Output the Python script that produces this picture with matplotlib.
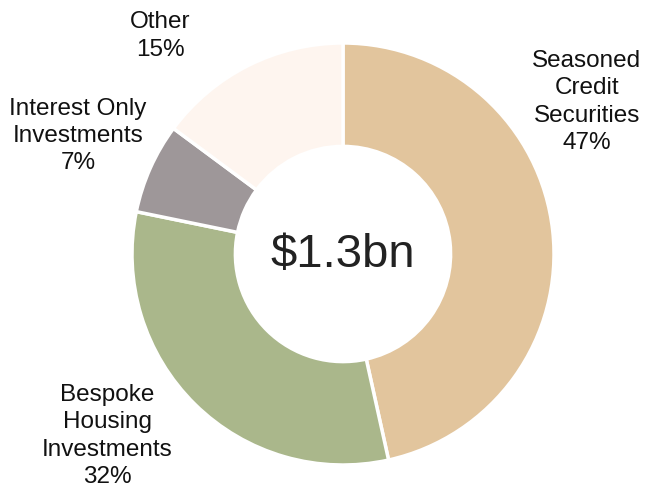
import matplotlib
matplotlib.use("Agg")
import matplotlib.pyplot as plt

labels = ["Seasoned\nCredit\nSecurities", "Bespoke\nHousing\nInvestments",
          "Interest Only\nInvestments", "Other"]
shares = [47, 32, 7, 15]
colors = ["#E2C59D", "#AAB78B", "#9E9799", "#FEF5EF"]
total_label = "$1.3bn"

# label anchor points (data units, pie radius = 1)
label_pos = [(1.156, 0.725), (-1.118, -0.858), (-1.256, 0.564), (-0.867, 1.038)]

plt.rcParams["font.family"] = ["Liberation Sans", "DejaVu Sans"]

fig = plt.figure(figsize=(6.45, 4.85), dpi=100)
ax = fig.add_axes([0, 0, 1, 1])
ax.pie(shares, colors=colors, startangle=90, counterclock=False, radius=1.0,
       wedgeprops=dict(width=0.49, edgecolor="white", linewidth=2.5))

for lab, val, (x, y) in zip(labels, shares, label_pos):
    ax.text(x, y, f"{lab}\n{val}%", ha="center", va="center", fontsize=17.5,
            linespacing=1.32, color="#111111")

ax.text(0, 0, total_label, ha="center", va="center", fontsize=34, color="#222222")

ax.set_xlim(-343 / 211, (645 - 343) / 211)
ax.set_ylim(-230 / 211, 255 / 211)
ax.set_aspect("equal")
ax.axis("off")

fig.savefig("out.png", dpi=100)
